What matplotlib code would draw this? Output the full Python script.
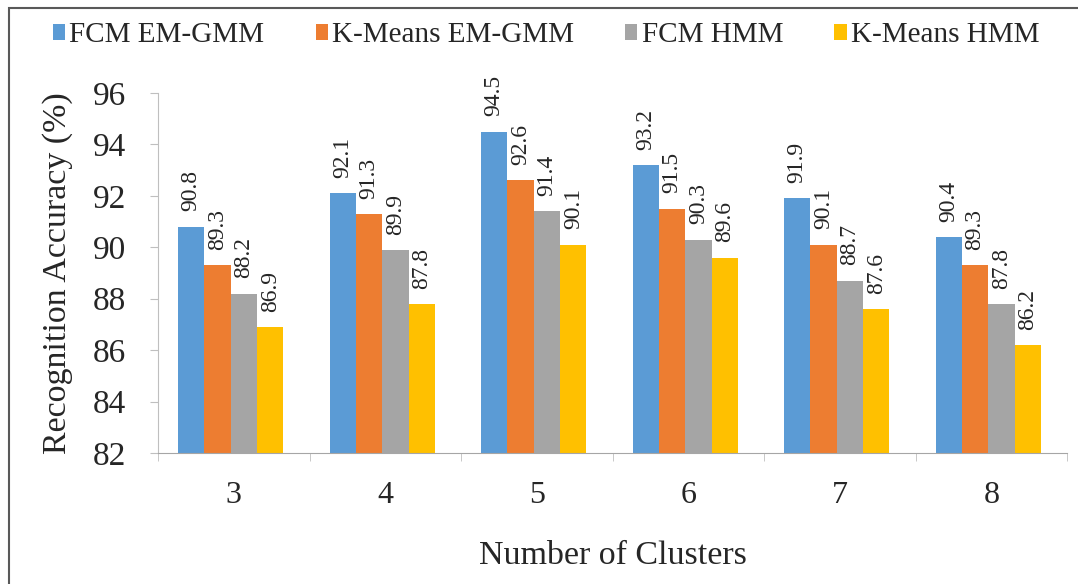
import numpy as np
import matplotlib
matplotlib.use("Agg")
import matplotlib.pyplot as plt
from matplotlib.patches import Rectangle

clusters = ["3", "4", "5", "6", "7", "8"]
series_names = ["FCM EM-GMM", "K-Means EM-GMM", "FCM HMM", "K-Means HMM"]
fcm_gmm = [90.8, 92.1, 94.5, 93.2, 91.9, 90.4]
km_gmm = [89.3, 91.3, 92.6, 91.5, 90.1, 89.3]
fcm_hmm = [88.2, 89.9, 91.4, 90.3, 88.7, 87.8]
km_hmm = [86.9, 87.8, 90.1, 89.6, 87.6, 86.2]
y_ticks = [82, 84, 86, 88, 90, 92, 94, 96]

colors = ["#5B9BD5", "#ED7D31", "#A5A5A5", "#FFC000"]

plt.rcParams['font.family'] = ['Liberation Serif', 'DejaVu Serif']

fig = plt.figure(figsize=(10.78, 5.84), dpi=100)
ax = fig.add_axes([0.1466, 0.2243, 0.8432, 0.6165])

# outer frame of the chart
fig.patches.append(Rectangle((9 / 1078, -0.05), 1.2, 1 - 8 / 584 + 0.05,
                             transform=fig.transFigure, fill=False,
                             edgecolor="#595959", linewidth=1.5))

x = np.arange(len(clusters))
width = 0.174
all_series = [fcm_gmm, km_gmm, fcm_hmm, km_hmm]
for i, vals in enumerate(all_series):
    pos = x + (i - 1.5) * width - 0.02
    ax.bar(pos, np.array(vals) - 82, width, bottom=82, color=colors[i],
           label=series_names[i])
    for xp, v in zip(pos, vals):
        ax.annotate(f"{v:.1f}", (xp, v), xytext=(0, 11), textcoords="offset points",
                    rotation=90, ha="center", va="bottom", fontsize=17,
                    color="#262626")

ax.set_ylim(82, 96)
ax.set_xlim(-0.5, len(clusters) - 0.5)
ax.set_yticks(y_ticks)
ax.set_yticklabels([str(t) for t in y_ticks], fontsize=24, color="#262626")
ax.set_xticks(x)
ax.set_xticklabels(clusters, fontsize=23, color="#262626")
ax.set_xticks(np.arange(len(clusters) + 1) - 0.5, minor=True)
ax.tick_params(axis="x", which="major", length=0, pad=20)
ax.tick_params(axis="x", which="minor", length=6, color="#BFBFBF")
ax.tick_params(axis="y", length=6, color="#BFBFBF", pad=17)

for s in ["top", "right"]:
    ax.spines[s].set_visible(False)
ax.spines["left"].set_color("#BFBFBF")
ax.spines["bottom"].set_color("#A6A6A6")

ax.set_ylabel("Recognition Accuracy (%)", fontsize=24.5, color="#262626", labelpad=14)
ax.set_xlabel("Number of Clusters", fontsize=24.5, color="#262626", labelpad=22)

ax.legend(loc="center", bbox_to_anchor=(0.427, 1.16), ncol=4, frameon=False,
          fontsize=21, handlelength=0.42, handleheight=0.42, handletextpad=0.15,
          columnspacing=1.75, labelcolor="#262626")

fig.savefig("out.png", dpi=100)
